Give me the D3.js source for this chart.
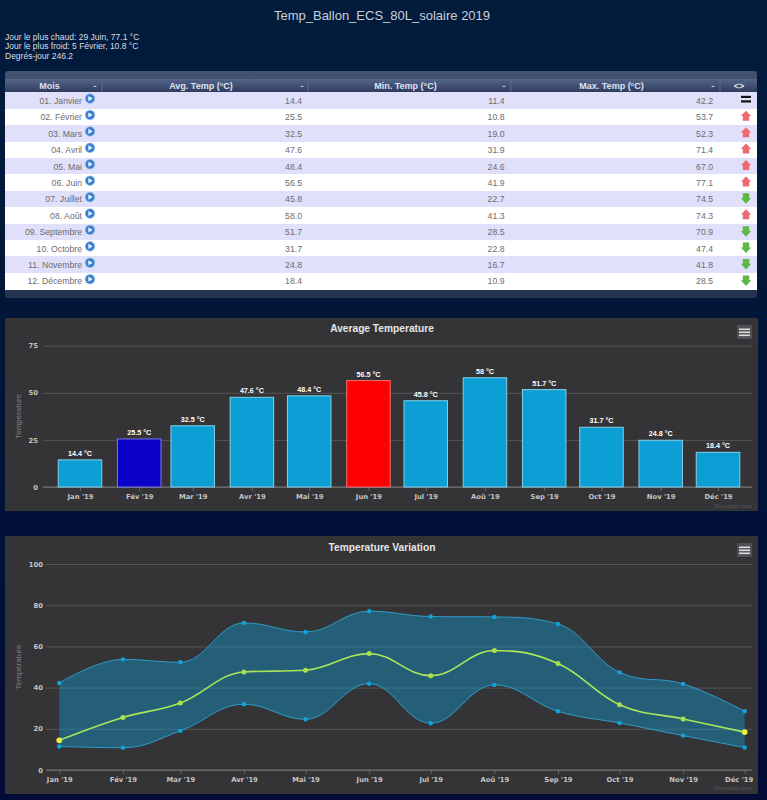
<!DOCTYPE html>
<html>
<head>
<meta charset="utf-8">
<script src="https://cdn.jsdelivr.net/npm/d3@7"></script>
<style>
  html, body { margin: 0; padding: 0; background: #02153a; }
  svg { display: block; }
  text { font-family: "Liberation Sans", Arial, sans-serif; }
  .tick-txt text { font-family: "DejaVu Sans", sans-serif; font-size: 6.8px; font-weight: bold; fill: #c4c4c4; }
</style>
</head>
<body>
<svg id="page" width="767" height="800"></svg>
<script>
const months = ["01. Janvier", "02. Février", "03. Mars", "04. Avril", "05. Mai", "06. Juin", "07. Juillet", "08. Août", "09. Septembre", "10. Octobre", "11. Novembre", "12. Décembre"];
const xLabels = ["Jan '19", "Fév '19", "Mar '19", "Avr '19", "Mai '19", "Jun '19", "Jul '19", "Aoû '19", "Sep '19", "Oct '19", "Nov '19", "Déc '19"];
const avgTemp = [14.4, 25.5, 32.5, 47.6, 48.4, 56.5, 45.8, 58.0, 51.7, 31.7, 24.8, 18.4];
const minTemp = [11.4, 10.8, 19.0, 31.9, 24.6, 41.9, 22.7, 41.3, 28.5, 22.8, 16.7, 10.9];
const maxTemp = [42.2, 53.7, 52.3, 71.4, 67.0, 77.1, 74.5, 74.3, 70.9, 47.4, 41.8, 28.5];
const trends = ["same", "up", "up", "up", "up", "up", "down", "up", "down", "down", "down", "down"];
const infoLines = ["Jour le plus chaud: 29 Juin, 77.1 °C", "Jour le plus froid: 5 Février, 10.8 °C", "Degrés-jour 246.2"];
const dates = d3.range(12).map((m) => new Date(Date.UTC(2019, m, 1)));

const svg = d3.select("#page");
const defs = svg.append("defs");

const bgGrad = defs.append("linearGradient").attr("id", "bg").attr("x2", 0).attr("y2", 1);
bgGrad.append("stop").attr("offset", 0).attr("stop-color", "#021c3c");
bgGrad.append("stop").attr("offset", 1).attr("stop-color", "#020c36");
const headGrad = defs.append("linearGradient").attr("id", "head").attr("x2", 0).attr("y2", 1);
headGrad.append("stop").attr("offset", 0).attr("stop-color", "#55658a");
headGrad.append("stop").attr("offset", 1).attr("stop-color", "#2d3b5e");
const barGrad = defs.append("linearGradient").attr("id", "band").attr("x2", 0).attr("y2", 1);
barGrad.append("stop").attr("offset", 0).attr("stop-color", "#43516f");
barGrad.append("stop").attr("offset", 1).attr("stop-color", "#26334f");

svg.append("rect").attr("width", 767).attr("height", 800).attr("fill", "url(#bg)");

svg.append("text").attr("x", 382).attr("y", 20).attr("text-anchor", "middle")
    .attr("font-size", 13).attr("fill", "#c8d0da").text("Temp_Ballon_ECS_80L_solaire 2019");

svg.selectAll(".info").data(infoLines).enter().append("text")
    .attr("x", 5).attr("y", (d, i) => 39.5 + i * 9.8)
    .attr("font-size", 8.5).attr("fill", "#d8dde4").text((d) => d);

// Table
const columns = [
    { name: "Mois", x0: 5, x1: 102, sort: 95 },
    { name: "Avg. Temp (°C)", x0: 102, x1: 308, sort: 302 },
    { name: "Min. Temp (°C)", x0: 308, x1: 511, sort: 504 },
    { name: "Max. Temp (°C)", x0: 511, x1: 720, sort: 713 },
    { name: "<>", x0: 720, x1: 757 },
];
const rowY = d3.scaleBand().domain(d3.range(12)).range([92.3, 289.3]);

svg.append("rect").attr("x", 5).attr("y", 71).attr("width", 752).attr("height", 227).attr("rx", 3).attr("fill", "url(#band)");
svg.append("rect").attr("x", 5).attr("y", 79).attr("width", 752).attr("height", 13.3).attr("fill", "url(#head)");

columns.forEach((c) => {
    svg.append("text").attr("x", c.name === "<>" ? 739 : (c.x0 + c.x1 - 8) / 2).attr("y", 89)
        .attr("text-anchor", "middle").attr("font-size", 9).attr("font-weight", "bold")
        .attr("fill", "#dfe3ee").text(c.name);
    if (c.sort) {
        svg.append("path").attr("d", `M${c.sort - 2},87 L${c.sort + 2},87 L${c.sort},85.4 Z`).attr("fill", "#c4cad8");
    }
    if (c.x0 > 5) {
        svg.append("line").attr("x1", c.x0).attr("x2", c.x0).attr("y1", 80).attr("y2", 92).attr("stroke", "#5a6a90");
    }
});

const rows = svg.selectAll(".row").data(d3.range(12)).enter().append("g")
    .attr("class", "row").attr("transform", (i) => `translate(0,${rowY(i)})`);
rows.append("rect").attr("x", 5).attr("width", 752).attr("height", rowY.bandwidth() + 0.5)
    .attr("shape-rendering", "crispEdges")
    .attr("fill", (i) => (i % 2 ? "#ffffff" : "#e0e0fa"));

const cell = (x, accessor) => rows.append("text").attr("x", x).attr("y", 11.6).attr("text-anchor", "end")
    .attr("font-size", 8.7).attr("fill", "#6b6b72").text(accessor);
cell(82, (i) => months[i]);
cell(302, (i) => avgTemp[i].toFixed(1));
cell(504.5, (i) => minTemp[i].toFixed(1));
cell(713, (i) => maxTemp[i].toFixed(1));

// little blue "detail" icon next to the month
rows.append("circle").attr("cx", 90).attr("cy", 6.3).attr("r", 4.8).attr("fill", "#3a7fd0").attr("stroke", "#9cc4ea").attr("stroke-width", 0.6);
rows.append("path").attr("d", "M88.4,3.7 L92.6,6.3 L88.4,8.9 Z").attr("fill", "#f2f7fc");

// trend icons
rows.each(function (i) {
    const g = d3.select(this);
    const cx = 746;
    if (trends[i] === "same") {
        g.append("rect").attr("x", cx - 5).attr("y", 3.5).attr("width", 10).attr("height", 2.2).attr("fill", "#111");
        g.append("rect").attr("x", cx - 5).attr("y", 8).attr("width", 10).attr("height", 2.2).attr("fill", "#111");
    } else if (trends[i] === "up") {
        g.append("path").attr("d", `M${cx},2 L${cx + 5.2},7.4 L${cx + 3.2},7.4 L${cx + 3.2},12 L${cx - 3.2},12 L${cx - 3.2},7.4 L${cx - 5.2},7.4 Z`).attr("fill", "#ee6a72");
    } else {
        g.append("path").attr("d", `M${cx},13 L${cx + 5.2},7.4 L${cx + 3.2},7.4 L${cx + 3.2},2.5 L${cx - 3.2},2.5 L${cx - 3.2},7.4 L${cx - 5.2},7.4 Z`).attr("fill", "#5cb947");
    }
});

// Spline used by the temperature charts: control points flattened at local extrema
function flatSpline(context) {
    let pts = [];
    let inArea = false;
    let line = 0;
    const smoothing = 1.5;
    const controls = (p, prev, next) => {
        if (!prev || !next) return { lx: p[0], ly: p[1], rx: p[0], ry: p[1] };
        const lx = (smoothing * p[0] + prev[0]) / 2.5;
        const rx = (smoothing * p[0] + next[0]) / 2.5;
        let ly = (smoothing * p[1] + prev[1]) / 2.5;
        let ry = (smoothing * p[1] + next[1]) / 2.5;
        const correction = ((ry - ly) * (rx - p[0])) / (rx - lx) + p[1] - ry;
        ly += correction;
        ry += correction;
        if (ly > prev[1] && ly > p[1]) { ly = Math.max(prev[1], p[1]); ry = 2 * p[1] - ly; }
        else if (ly < prev[1] && ly < p[1]) { ly = Math.min(prev[1], p[1]); ry = 2 * p[1] - ly; }
        if (ry > next[1] && ry > p[1]) { ry = Math.max(next[1], p[1]); ly = 2 * p[1] - ry; }
        else if (ry < next[1] && ry < p[1]) { ry = Math.min(next[1], p[1]); ly = 2 * p[1] - ry; }
        return { lx, ly, rx, ry };
    };
    return {
        areaStart() { inArea = true; line = 0; },
        areaEnd() { context.closePath(); inArea = false; },
        lineStart() { pts = []; },
        point(x, y) { pts.push([x, y]); },
        lineEnd() {
            const c = pts.map((p, i) => controls(p, pts[i - 1], pts[i + 1]));
            pts.forEach((p, i) => {
                if (i === 0) {
                    if (inArea && line > 0) context.lineTo(p[0], p[1]);
                    else context.moveTo(p[0], p[1]);
                } else {
                    context.bezierCurveTo(c[i - 1].rx, c[i - 1].ry, c[i].lx, c[i].ly, p[0], p[1]);
                }
            });
            line++;
        },
    };
}

function chartFrame({ top, bottom, title, titleY, yDomain, yTicks, y0, yTop, xRange, gridLeft, yLabelX, menuY, creditY }) {
    const g = svg.append("g");
    g.append("rect").attr("x", 5).attr("y", top).attr("width", 753).attr("height", bottom - top).attr("fill", "#343437");
    g.append("text").attr("x", 382).attr("y", titleY).attr("text-anchor", "middle")
        .attr("font-family", "Lato, sans-serif").attr("font-size", 10.2).attr("font-weight", "bold")
        .attr("fill", "#e6e6e6").text(title);

    const x = d3.scaleUtc().domain([dates[0], dates[11]]).range(xRange);
    const y = d3.scaleLinear().domain(yDomain).range([y0, yTop]);

    const yAxis = g.append("g").attr("class", "tick-txt").attr("transform", `translate(${gridLeft},0)`)
        .call(d3.axisLeft(y).tickValues(yTicks).tickSize(-(752 - gridLeft)).tickPadding(gridLeft - yLabelX));
    yAxis.select(".domain").remove();
    yAxis.selectAll("line").attr("stroke", "#545457");

    const xAxis = g.append("g").attr("class", "tick-txt").attr("transform", `translate(0,${y0})`)
        .call(d3.axisBottom(x).tickValues(dates).tickFormat((d, i) => xLabels[i]).tickSize(4).tickPadding(3));
    xAxis.select(".domain").remove();
    xAxis.selectAll("line").attr("stroke", "#66666a");
    g.append("line").attr("x1", gridLeft).attr("x2", 752).attr("y1", y0).attr("y2", y0).attr("stroke", "#78787c");

    g.append("text").attr("transform", `translate(21,${(y0 + yTop) / 2}) rotate(-90)`)
        .attr("text-anchor", "middle").attr("font-family", "DejaVu Sans, sans-serif").attr("font-size", 8)
        .attr("fill", "#7f7f83").text("Température");

    g.append("rect").attr("x", 737).attr("y", menuY).attr("width", 15).attr("height", 14).attr("rx", 1).attr("fill", "#505054");
    [3.5, 6.5, 9.5].forEach((d) => {
        g.append("rect").attr("x", 739).attr("y", menuY + d).attr("width", 11).attr("height", 1.6).attr("fill", "#dedede");
    });

    g.append("text").attr("x", 752).attr("y", creditY).attr("text-anchor", "end")
        .attr("font-size", 6).attr("fill", "#5a5a5e").text("Domoticz.com");
    return { g, x, y, xAxis };
}

// Average Temperature
const barColor = (i) => (i === 1 ? "#0a00c8" : i === 5 ? "#ff0000" : "#0c9fd6");
const barStroke = (i) => (i === 1 ? "#7a78e0" : i === 5 ? "#f07070" : "#85cfe6");
const barWidth = 43.5;

const avgChart = chartFrame({
    top: 318, bottom: 511, title: "Average Temperature", titleY: 332,
    yDomain: [0, 75], yTicks: [0, 25, 50, 75], y0: 487, yTop: 345.7,
    xRange: [80, 718], gridLeft: 43, yLabelX: 38, menuY: 325, creditY: 508,
});

avgChart.g.selectAll(".bar").data(avgTemp).enter().append("rect")
    .attr("x", (d, i) => avgChart.x(dates[i]) - barWidth / 2)
    .attr("y", (d) => avgChart.y(d))
    .attr("width", barWidth)
    .attr("height", (d) => avgChart.y(0) - avgChart.y(d))
    .attr("fill", (d, i) => barColor(i))
    .attr("stroke", (d, i) => barStroke(i));

avgChart.g.selectAll(".bar-label").data(avgTemp).enter().append("text")
    .attr("x", (d, i) => avgChart.x(dates[i]))
    .attr("y", (d) => avgChart.y(d) - 4)
    .attr("text-anchor", "middle")
    .attr("font-family", "DejaVu Sans, sans-serif").attr("font-size", 7.2).attr("font-weight", "bold")
    .attr("fill", "#ffffff").text((d) => `${d} °C`);

// Temperature Variation
const varChart = chartFrame({
    top: 536, bottom: 794, title: "Temperature Variation", titleY: 551,
    yDomain: [0, 100], yTicks: [0, 20, 40, 60, 80, 100], y0: 770, yTop: 564,
    xRange: [59.3, 744.7], gridLeft: 46, yLabelX: 43, menuY: 543, creditY: 790,
});
varChart.xAxis.selectAll(".tick:last-of-type text").attr("dx", -6);

const px = (d, i) => varChart.x(dates[i]);
const py = (d) => varChart.y(d);

varChart.g.append("path").datum(d3.range(12))
    .attr("d", d3.area().curve(flatSpline)
        .x((i) => varChart.x(dates[i]))
        .y0((i) => varChart.y(minTemp[i]))
        .y1((i) => varChart.y(maxTemp[i])))
    .attr("fill", "#0c9fd6").attr("fill-opacity", 0.4);

const spline = d3.line().curve(flatSpline).x(px).y(py);
[maxTemp, minTemp].forEach((series) => {
    varChart.g.append("path").datum(series).attr("d", spline)
        .attr("fill", "none").attr("stroke", "#2f9dc9").attr("stroke-width", 1);
    varChart.g.selectAll(null).data(series).enter().append("circle")
        .attr("cx", px).attr("cy", py).attr("r", 2.2).attr("fill", "#10a3dc");
});

varChart.g.append("path").datum(avgTemp).attr("d", spline)
    .attr("fill", "none").attr("stroke", "#a9e65c").attr("stroke-width", 1.6);
varChart.g.selectAll(".avg-pt").data(avgTemp).enter().append("circle")
    .attr("cx", px).attr("cy", py)
    .attr("r", (d, i) => (i === 0 || i === 11 ? 2.9 : 2.5))
    .attr("fill", (d, i) => (i === 0 || i === 11 ? "#e6f23c" : "#a8e04e"));
</script>
</body>
</html>
